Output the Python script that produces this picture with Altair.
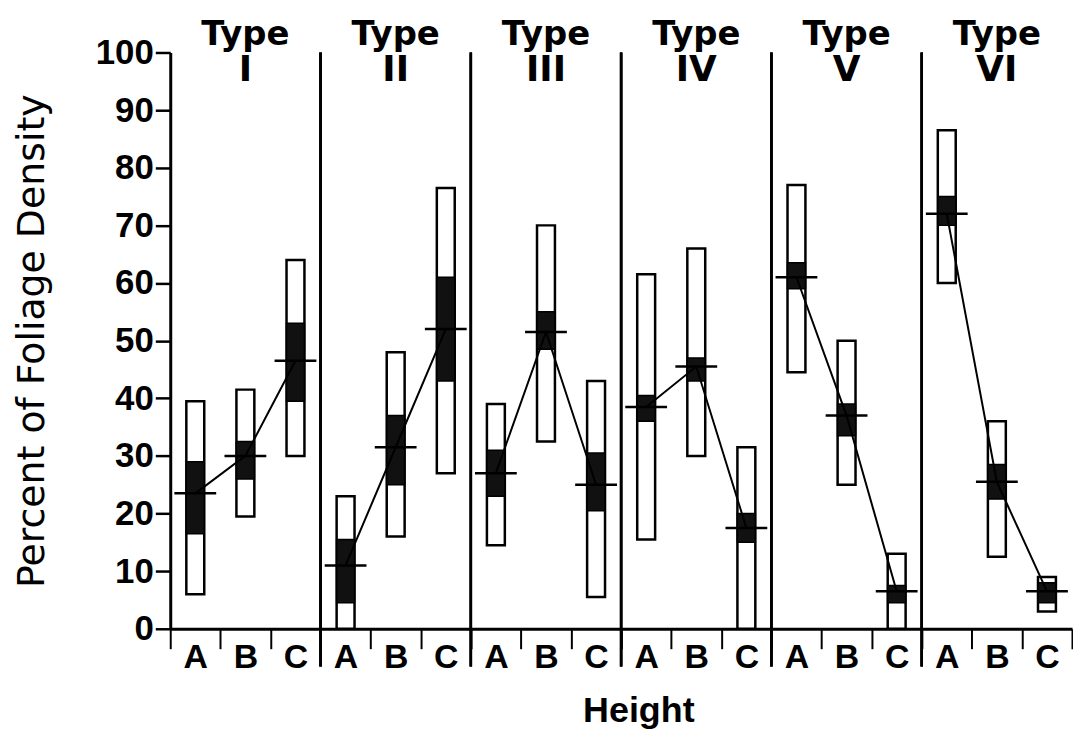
import altair as alt
import pandas as pd

types = ["I", "II", "III", "IV", "V", "VI"]
heights = ["A", "B", "C"]

# outer (white) box: range low / high
range_low = [[6, 19.5, 30], [0, 16, 27], [14.5, 32.5, 5.5], [15.5, 30, 0], [44.5, 25, 0], [60, 12.5, 3]]
range_high = [[39.5, 41.5, 64], [23, 48, 76.5], [39, 70, 43], [61.5, 66, 31.5], [77, 50, 13], [86.5, 36, 9]]
# inner (dark) box
inner_low = [[16.5, 26, 39.5], [4.5, 25, 43], [23, 48.5, 20.5], [36, 43, 15], [59, 33.5, 4.5], [70, 22.5, 4.5]]
inner_high = [[29, 32.5, 53], [15.5, 37, 61], [31, 55, 30.5], [40.5, 47, 20], [63.5, 39, 7.5], [75, 28.5, 8]]
# mean
means = [[23.5, 30, 46.5], [11, 31.5, 52], [27, 51.5, 25], [38.5, 45.5, 17.5], [61, 37, 6.5], [72, 25.5, 6.5]]

rows = []
for i, t in enumerate(types):
    for j, h in enumerate(heights):
        rows.append({
            "Type": t, "Height": h,
            "lo": range_low[i][j], "hi": range_high[i][j],
            "dlo": inner_low[i][j], "dhi": inner_high[i][j],
            "mean": means[i][j],
        })
df = pd.DataFrame(rows)

W = 151
H = 579

x_enc = alt.X(
    "Height:N", sort=heights,
    scale=alt.Scale(paddingInner=0, paddingOuter=0),
    axis=alt.Axis(
        title=None, labelAngle=0, tickBand="extent", tickSize=20, tickWidth=2,
        tickColor="black", domainColor="black", domainWidth=3,
        labelFont="Liberation Sans", labelFontWeight="bold", labelFontSize=34,
        labelColor="black", labelPadding=-8,
    ),
)
y_scale = alt.Scale(domain=[0, 100], nice=False)
y_axis = alt.Axis(
    values=[0, 10, 20, 30, 40, 50, 60, 70, 80, 90, 100], grid=False,
    tickSize=15, tickWidth=2.5, tickColor="black", domainColor="black", domainWidth=3,
    labelFont="Liberation Sans", labelFontWeight="bold", labelFontSize=35,
    labelColor="black", labelPadding=2, labelFlush=False,
    title="Percent of Foliage Density", titleFont="DejaVu Sans", titleFontWeight="normal",
    titleFontSize=38, titleColor="black", titlePadding=44,
)

base = alt.Chart()

white = base.mark_bar(fill="white", stroke="black", strokeWidth=2.5, size=18).encode(
    x=x_enc,
    y=alt.Y("lo:Q", scale=y_scale, axis=y_axis),
    y2="hi:Q",
)
dark = base.mark_bar(fill="#111111", stroke="black", strokeWidth=1.5, size=18).encode(
    x=x_enc, y=alt.Y("dlo:Q", scale=y_scale), y2="dhi:Q"
)
line = base.mark_line(color="black", strokeWidth=2).encode(
    x=x_enc, y=alt.Y("mean:Q", scale=y_scale)
)
tick = base.mark_tick(color="black", thickness=2.5, size=42, opacity=1).encode(
    x=x_enc, y=alt.Y("mean:Q", scale=y_scale)
)
sep = base.transform_filter("datum.Type != 'I'").mark_rule(color="black", strokeWidth=2.5).encode(
    x=alt.value(0), y=alt.value(0), y2=alt.value(H + 38)
)
one_per_panel = base.transform_filter("datum.Height == 'B'")
title1 = one_per_panel.mark_text(
    font="DejaVu Sans", fontWeight="bold", fontSize=34, color="black",
    align="center", baseline="alphabetic",
).encode(x=alt.value(W / 2), y=alt.value(-8), text=alt.value("Type"))
title2 = one_per_panel.mark_text(
    font="DejaVu Sans", fontWeight="bold", fontSize=36, color="black",
    align="center", baseline="alphabetic",
).encode(x=alt.value(W / 2), y=alt.value(29), text="Type:N")

layered = alt.layer(white, dark, line, tick, sep, title1, title2).properties(width=W, height=H)

chart = layered.facet(
    column=alt.Column(
        "Type:N", sort=types,
        header=alt.Header(title=None, labels=False),
    ),
    data=df,
    spacing=0,
    bounds="flush",
).properties(
    padding={"left": 5, "top": 8, "right": 0, "bottom": 0},
    title=alt.TitleParams(
        text="Height", orient="bottom", anchor="middle", font="Liberation Sans",
        fontWeight="bold", fontSize=36, color="black", offset=20, dx=96,
    ),
).configure_view(stroke=None)

chart.save("out.html", embed_options={"renderer": "svg", "actions": False})
